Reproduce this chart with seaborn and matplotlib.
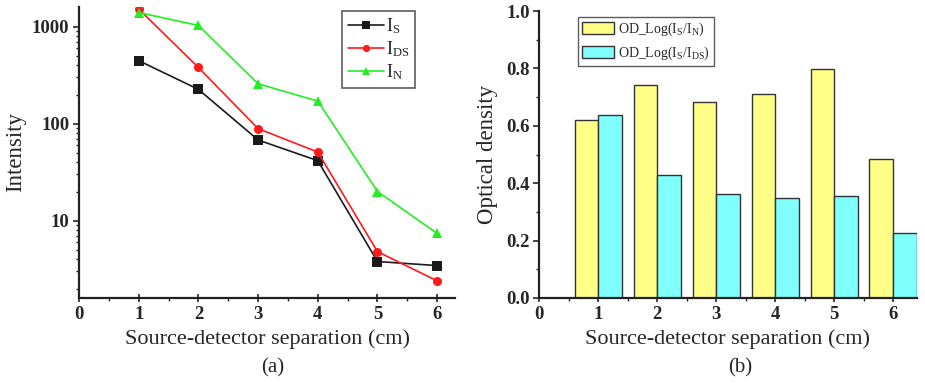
import numpy as np
import pandas as pd
import matplotlib
matplotlib.use("Agg")
import matplotlib.pyplot as plt
from matplotlib.ticker import MultipleLocator, LogLocator, NullFormatter, FixedLocator
import seaborn as sns

# ---- data ----
sep = [1, 2, 3, 4, 5, 6]
I_S = [447, 226, 68, 41.6, 3.8, 3.45]
I_DS = [1520, 380, 89, 51, 4.8, 2.4]
I_N = [1400, 1030, 258, 171, 20, 7.4]

od_sn = [0.62, 0.743, 0.684, 0.71, 0.797, 0.486]
od_sds = [0.638, 0.428, 0.364, 0.348, 0.355, 0.228]

od_ticks = [0.0, 0.2, 0.4, 0.6, 0.8, 1.0]

line_labels = [r"I$_{\rm S}$", r"I$_{\rm DS}$", r"I$_{\rm N}$"]
bar_labels = [r"OD_Log(I$_{\rm S}$/I$_{\rm N}$)", r"OD_Log(I$_{\rm S}$/I$_{\rm DS}$)"]

sns.set_style("ticks")
plt.rcParams["font.family"] = ["Liberation Serif", "DejaVu Serif"]
plt.rcParams["mathtext.fontset"] = "custom"
plt.rcParams["mathtext.rm"] = "Liberation Serif"
plt.rcParams["mathtext.it"] = "Liberation Serif"

fig = plt.figure(figsize=(9.25, 3.83), dpi=100)
ax1 = fig.add_axes([0.0854, 0.222, 0.4066, 0.760])
ax2 = fig.add_axes([0.583, 0.222, 0.408, 0.749])

# ---- left: line plot ----
line_df = pd.DataFrame({
    "x": sep * 3,
    "y": I_S + I_DS + I_N,
    "series": [line_labels[0]] * 6 + [line_labels[1]] * 6 + [line_labels[2]] * 6,
})
colors = ["#1a1a1a", "#ff1a1a", "#22ee22"]
markers = ["s", "o", "^"]
for lab, c, m in zip(line_labels, colors, markers):
    sub = line_df[line_df["series"] == lab]
    sns.lineplot(data=sub, x="x", y="y", ax=ax1, color=c, marker=m,
                 markersize=6.5, markeredgewidth=0, linewidth=1.2, label=lab)
ax1.set_yscale("log")
ax1.set_xlim(0, 6.3)
ax1.set_ylim(1.6, 1600)
ax1.xaxis.set_major_locator(MultipleLocator(1))
ax1.xaxis.set_minor_locator(MultipleLocator(0.5))
ax1.yaxis.set_major_locator(FixedLocator([10, 100, 1000]))
ax1.set_yticklabels(["10", "100", "1000"])
ax1.yaxis.set_minor_locator(LogLocator(base=10, subs=np.arange(2, 10)))
ax1.yaxis.set_minor_formatter(NullFormatter())
ax1.set_xlabel("Source-detector separation (cm)", fontsize=16, labelpad=4)
ax1.set_ylabel("Intensity", fontsize=16.5, labelpad=4)
leg1 = ax1.legend(loc="upper left", bbox_to_anchor=(0.69, 1.0), frameon=True,
                  fancybox=False, edgecolor="#333333", fontsize=13,
                  handlelength=2.0, handletextpad=0.15, borderpad=0.3,
                  labelspacing=0.2, borderaxespad=0.2, markerscale=0.8)
leg1.get_frame().set_linewidth(1.2)

# ---- right: bars ----
bar_df = pd.DataFrame({
    "x": sep * 2,
    "od": od_sn + od_sds,
    "kind": [bar_labels[0]] * 6 + [bar_labels[1]] * 6,
})
sns.barplot(data=bar_df, x="x", y="od", hue="kind", native_scale=True,
            palette=["#ffff88", "#80ffff"], saturation=1, edgecolor="#333333",
            linewidth=1.0, width=0.8, ax=ax2, errorbar=None)
ax2.set_xlim(0, 6.4)
ax2.xaxis.set_major_locator(MultipleLocator(1))
ax2.xaxis.set_minor_locator(MultipleLocator(0.5))
ax2.set_yticks(od_ticks)
ax2.set_yticklabels([f"{v:.1f}" for v in od_ticks])
ax2.yaxis.set_minor_locator(MultipleLocator(0.1))
ax2.set_ylim(0, 1.0)
ax2.set_xlabel("Source-detector separation (cm)", fontsize=16, labelpad=4)
ax2.set_ylabel("Optical density", fontsize=16.5, labelpad=6)
leg2 = ax2.legend(loc="upper left", bbox_to_anchor=(0.085, 1.005), frameon=True,
                  fancybox=False, edgecolor="#333333", fontsize=10,
                  handlelength=2.3, handleheight=0.9, handletextpad=0.25,
                  borderpad=0.3, labelspacing=0.45, title=None)
leg2.get_frame().set_linewidth(1.0)

for ax in (ax1, ax2):
    sns.despine(ax=ax)
    for s in ("left", "bottom"):
        ax.spines[s].set_linewidth(1.6)
        ax.spines[s].set_color("#222222")
    ax.tick_params(which="major", direction="out", length=4, width=1.2, labelsize=13.5, pad=3)
    ax.tick_params(which="minor", direction="out", length=2.5, width=1.0)
    ax.tick_params(axis="x", which="major", direction="inout", length=6)
    for t in ax.get_xticklabels() + ax.get_yticklabels():
        t.set_fontweight("bold")

fig.text(0.295, 0.04, "(a)", ha="center", va="center", fontsize=15)
fig.text(0.80, 0.04, "(b)", ha="center", va="center", fontsize=15)

fig.savefig("out.png", dpi=100)
